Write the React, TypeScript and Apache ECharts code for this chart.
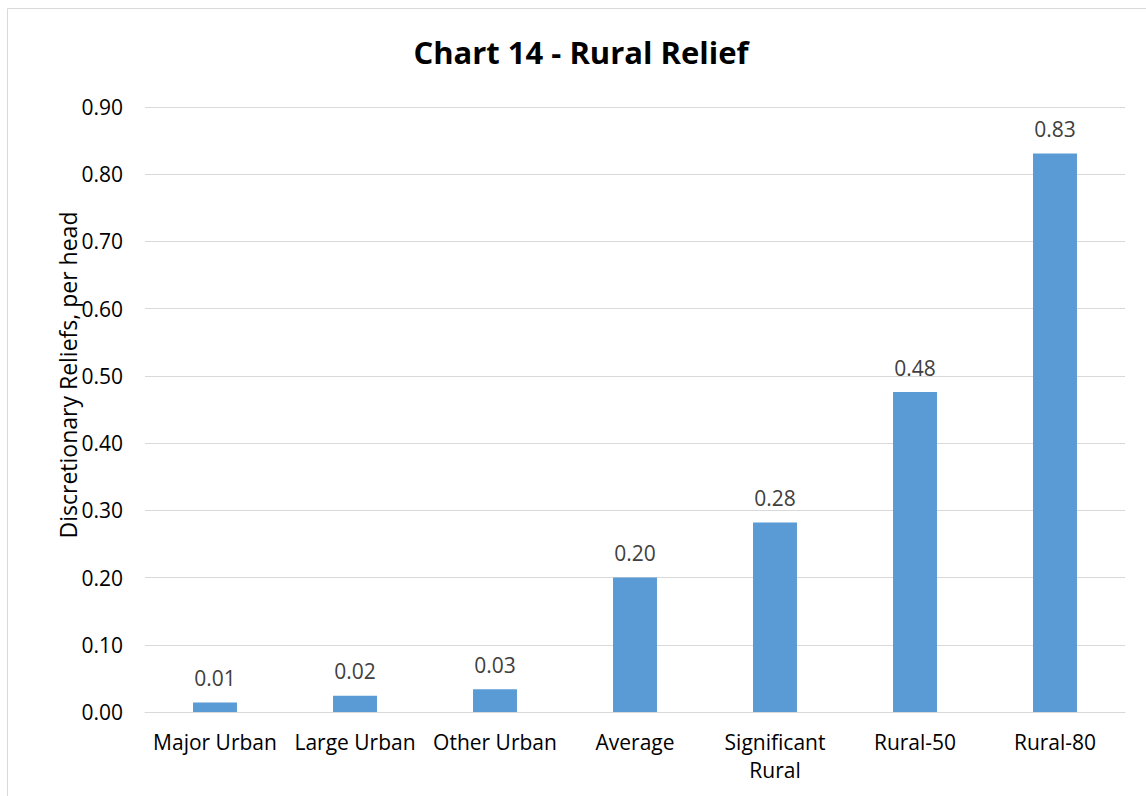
import React, { useEffect, useRef } from "react";
import * as echarts from "echarts";

const categories = ["Major Urban", "Large Urban", "Other Urban", "Average", "Significant Rural", "Rural-50", "Rural-80"];
const values = [0.014, 0.024, 0.034, 0.2, 0.282, 0.476, 0.831];
const yTicks = { min: 0, max: 0.9, interval: 0.1 };
const titleText = "Chart 14 - Rural Relief";
const yName = "Discretionary Reliefs, per head";

const FONT = "'Open Sans', 'Noto Sans', sans-serif";

export default function App() {
  const ref = useRef<HTMLDivElement>(null);
  useEffect(() => {
    document.body.style.margin = "0";
    const chart = echarts.init(ref.current!, undefined, { renderer: "svg" });
    chart.setOption({
      animation: false,
      backgroundColor: "#ffffff",
      textStyle: { fontFamily: FONT },
      title: {
        text: titleText,
        left: 576,
        textAlign: "center",
        top: 31,
        textStyle: { fontFamily: FONT, fontSize: 31, fontWeight: "bold", color: "#000000" },
      },
      graphic: [
        {
          type: "rect",
          shape: { x: 7.5, y: 8.5, width: 1200, height: 900 },
          style: { fill: "none", stroke: "#d9d9d9", lineWidth: 1 },
          silent: true,
        },
        {
          type: "text",
          x: 68,
          y: 375,
          rotation: Math.PI / 2,
          style: {
            text: yName,
            fontSize: 23,
            fontFamily: FONT,
            fill: "#000000",
            align: "center",
            verticalAlign: "middle",
          },
          silent: true,
        },
      ],
      grid: { left: 145, right: 21, top: 107, bottom: 84, containLabel: false },
      xAxis: {
        type: "category",
        data: categories,
        axisLine: { show: true, lineStyle: { color: "#d9d9d9", width: 1 } },
        axisTick: { show: false },
        axisLabel: {
          interval: 0,
          margin: 16,
          fontSize: 21,
          lineHeight: 28,
          color: "#000000",
          fontFamily: FONT,
          formatter: (v: string) => (v.length > 12 ? v.replace(" ", "\n") : v),
        },
      },
      yAxis: {
        type: "value",
        min: yTicks.min,
        max: yTicks.max,
        interval: yTicks.interval,
        axisLine: { show: false },
        axisTick: { show: false },
        splitLine: { lineStyle: { color: "#d9d9d9", width: 1 } },
        axisLabel: {
          margin: 22,
          fontSize: 21,
          color: "#000000",
          fontFamily: FONT,
          formatter: (v: number) => v.toFixed(2),
        },
      },
      series: [
        {
          type: "bar",
          data: values,
          barWidth: "31.4%",
          itemStyle: { color: "#5B9BD5" },
          label: {
            show: true,
            position: "top",
            distance: 14,
            fontSize: 21,
            color: "#404040",
            fontFamily: FONT,
            formatter: (p: any) => Number(p.value).toFixed(2),
          },
        },
      ],
    });
    return () => chart.dispose();
  }, []);
  return <div ref={ref} style={{ width: 1146, height: 796 }} />;
}
